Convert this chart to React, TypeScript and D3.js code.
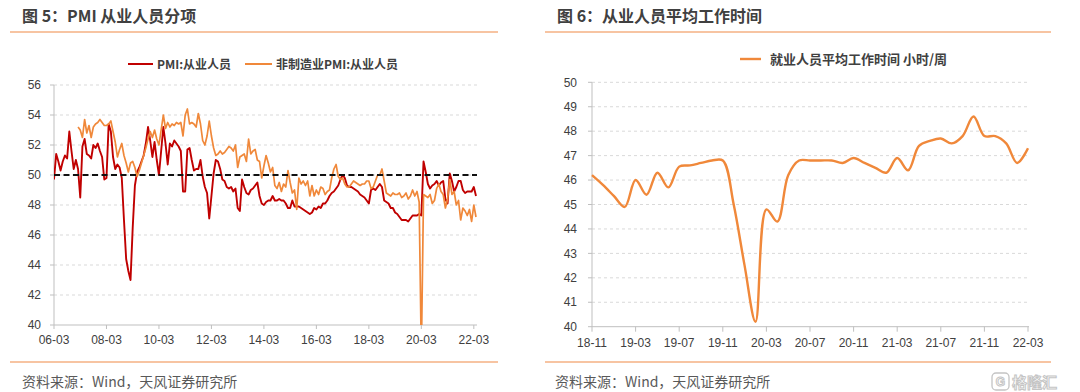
import React from 'react';
import * as d3 from 'd3';

// ---------- Left chart data (monthly, first point aligned with 06-03) ----------
const leftTickLabels = ['06-03', '08-03', '10-03', '12-03', '14-03', '16-03', '18-03', '20-03', '22-03'];
const leftTickIndex = [0, 24, 48, 72, 96, 120, 144, 168, 192];
const leftYTicks = [40, 42, 44, 46, 48, 50, 52, 54, 56];

const pmiMfgEmployment = [
  49.7, 51.4, 50.9, 50.3, 50.9, 51.3, 51.1, 52.9, 51.6, 50.4,
  51.0, 50.4, 48.5, 51.9, 52.4, 51.4, 51.3, 51.1, 52.0, 51.8, 52.1, 51.6,
  51.2, 49.7, 49.8, 53.4, 52.9, 51.2, 50.4, 50.7, 50.5, 49.8, 47.0, 44.4,
  43.6, 43.0, 46.5, 49.3, 50.2, 50.5, 50.9, 51.3, 52.1, 53.2, 52.3, 51.2,
  52.2, 51.0, 50.0, 51.6, 53.2, 52.1, 50.7, 52.1, 51.9, 52.3, 52.1, 51.9,
  51.6, 48.9, 48.9, 51.7, 51.8, 51.0, 50.3, 50.4, 50.4, 51.0, 49.9, 49.2,
  48.8, 47.1, 48.6, 50.1, 51.0, 50.9, 50.4, 49.7, 49.6, 49.2, 49.1, 49.2,
  48.9, 49.1, 47.8, 47.6, 49.7, 49.2, 48.8, 48.7, 49.0, 49.1, 49.3, 49.5,
  48.6, 48.1, 48.0, 48.2, 48.3, 48.3, 48.6, 48.3, 48.3, 48.4, 48.3, 48.3,
  48.1, 47.8, 47.8, 48.3, 47.9, 47.9, 47.9, 47.8, 47.7, 47.6, 47.5, 47.4,
  47.5, 47.8, 47.7, 47.9, 47.8, 48.1, 48.1, 48.3, 48.6, 48.8, 48.9, 49.1,
  49.3, 49.7, 50.0, 49.8, 49.3, 49.2, 49.2, 49.1, 49.0, 48.9, 48.7, 48.6,
  48.5, 48.3, 48.1, 49.0, 49.1, 49.0, 49.2, 49.4, 49.2, 48.3, 48.2, 48.1,
  47.8, 47.8, 47.5, 47.4, 47.2, 47.0, 47.0, 47.0, 46.9, 47.1, 47.3, 47.3,
  47.3, 47.4, 47.3, 50.9, 50.2, 49.4, 49.1, 49.3, 49.4, 49.6, 49.3, 49.5,
  49.6, 48.4, 48.1, 50.1, 49.6, 48.9, 49.2, 49.6, 49.6, 49.0, 48.8, 48.9,
  48.9, 48.9, 49.2, 48.6,
];

const pmiNonMfgStart = 11;
const pmiNonMfgEmployment = [
  53.2, 53.0, 52.5, 53.7, 52.8, 53.3, 52.5, 53.2, 53.4, 53.5, 53.7,
  53.5, 53.3, 53.3, 53.4, 53.6, 52.9, 52.2, 51.2, 51.7, 52.1, 51.3, 50.8,
  50.2, 50.8, 50.9, 50.5, 49.9, 50.3, 50.8, 51.3, 51.8, 52.4, 52.9, 52.5,
  53.0, 52.4, 52.0, 53.0, 54.0, 53.1, 53.5, 53.2, 53.4, 53.3, 53.5, 53.4,
  53.5, 52.6, 54.0, 54.4, 53.4, 53.5, 53.4, 53.2, 54.1, 53.4, 52.3, 52.0,
  52.6, 53.6, 52.6, 51.8, 51.3, 51.4, 51.6, 51.4, 51.5, 51.7, 51.9, 51.8,
  51.6, 52.0, 50.5, 51.2, 51.3, 51.4, 50.9, 52.4, 51.4, 51.6, 51.7, 51.0,
  50.9, 49.8, 50.6, 51.3, 50.8, 50.2, 50.5, 49.3, 49.1, 49.5, 48.9, 49.4,
  49.2, 50.3, 49.5, 48.8, 49.0, 47.7, 49.8, 49.4, 49.6, 49.3, 49.6, 48.6,
  49.3, 48.6, 49.0, 48.7, 49.2, 49.1, 48.7, 48.9, 49.0, 49.8, 50.4, 50.7,
  49.9, 49.7, 49.8, 49.4, 49.2, 49.2, 49.4, 49.6, 49.5, 49.4, 49.3, 49.4,
  49.4, 49.6, 49.6, 49.1, 49.2, 49.6, 50.0, 50.0, 50.4, 49.6, 48.8, 48.7,
  48.6, 48.8, 48.7, 48.7, 48.8, 48.5, 48.6, 48.8, 48.4, 48.6, 49.0, 48.6,
  48.9, 48.2, 37.9, 48.7, 48.6, 48.5, 48.7, 48.1, 48.3, 49.1, 49.4, 48.9,
  48.7, 47.8, 48.4, 49.7, 48.7, 48.9, 48.0, 48.3, 47.0, 47.8, 47.6, 47.3,
  47.7, 46.9, 48.0, 47.2,
];

// ---------- Right chart data ----------
const hoursTickLabels = ['18-11', '19-03', '19-07', '19-11', '20-03', '20-07', '20-11', '21-03', '21-07', '21-11', '22-03'];
const hoursTickIndex = [0, 4, 8, 12, 16, 20, 24, 28, 32, 36, 40];
const rightYTicks = [40, 41, 42, 43, 44, 45, 46, 47, 48, 49, 50];
const weeklyHours = [
  46.2, 45.8, 45.35, 44.9, 46.0, 45.4, 46.3, 45.7, 46.55, 46.6, 46.7, 46.8, 46.8,
  45.0, 42.5, 40.2, 44.8, 44.3, 46.2, 46.8, 46.8, 46.8, 46.8, 46.7, 46.9, 46.7,
  46.5, 46.3, 46.9, 46.4, 47.4, 47.6, 47.7, 47.5, 47.8, 48.6, 47.8, 47.8, 47.5,
  46.7, 47.3,
];

const LATIN = '"Liberation Sans", Arial, "Noto Sans CJK SC", sans-serif';
const CJK = '"Noto Sans CJK SC", "Liberation Sans", sans-serif';
const RED = '#C00000';
const ORANGE = '#F0883A';
const RULE = '#F4B183';
const GRID = '#D9D9D9';
const AXIS = '#BFBFBF';
const TEXT = '#404040';

function LeftChart() {
  const x = d3.scaleLinear().domain([0, pmiMfgEmployment.length - 1]).range([54, 476]);
  const y = d3.scaleLinear().domain([40, 56]).range([325, 85]);
  const x0 = 54, x1 = 477;
  const redLine = d3.line<number>().x((_, i) => x(i)).y((d) => y(d))(pmiMfgEmployment) || '';
  const orangeLine =
    d3.line<number>().x((_, i) => x(i + pmiNonMfgStart)).y((d) => y(d))(pmiNonMfgEmployment) || '';
  return (
    <g>
      <defs>
        <clipPath id="leftClip">
          <rect x={x0} y={y(56) - 5} width={x1 - x0 + 4} height={y(40) - y(56) + 5} />
        </clipPath>
      </defs>
      {leftYTicks.filter((t) => t !== 40).map((t) => (
        <line key={t} x1={x0} x2={x1} y1={y(t)} y2={y(t)} stroke={GRID} strokeDasharray="3,3" />
      ))}
      <line x1={x0} x2={x0} y1={y(56)} y2={y(40)} stroke={AXIS} />
      <line x1={x0} x2={x1} y1={y(40)} y2={y(40)} stroke={AXIS} />
      {leftYTicks.map((t) => (
        <g key={t}>
          <line x1={x0 - 4} x2={x0} y1={y(t)} y2={y(t)} stroke={AXIS} />
          <text x={41} y={y(t) + 4.2} textAnchor="end" fontSize={12} fontFamily={LATIN} fill={TEXT}>
            {t}
          </text>
        </g>
      ))}
      {leftTickIndex.map((ti, k) => (
        <g key={ti}>
          <line x1={x(ti)} x2={x(ti)} y1={y(40)} y2={y(40) + 4} stroke={AXIS} />
          <text x={x(ti)} y={344} textAnchor="middle" fontSize={12} fontFamily={LATIN} fill={TEXT}>
            {leftTickLabels[k]}
          </text>
        </g>
      ))}
      <g clipPath="url(#leftClip)">
        <path d={redLine} fill="none" stroke={RED} strokeWidth={1.9} strokeLinejoin="round" />
        <path d={orangeLine} fill="none" stroke={ORANGE} strokeWidth={1.7} strokeLinejoin="round" />
      </g>
      <line x1={x0} x2={x1} y1={y(50)} y2={y(50)} stroke="#111" strokeWidth={2} strokeDasharray="6,3.5" />
      {/* legend */}
      <line x1={128} x2={153} y1={64} y2={64} stroke={RED} strokeWidth={2} />
      <text x={157} y={68.5} fontSize={12} fontWeight="bold" fontFamily={CJK} fill={TEXT}>
        PMI:从业人员
      </text>
      <line x1={245} x2={272} y1={64} y2={64} stroke={ORANGE} strokeWidth={2} />
      <text x={276} y={68.5} fontSize={12} fontWeight="bold" fontFamily={CJK} fill={TEXT}>
        非制造业PMI:从业人员
      </text>
    </g>
  );
}

function RightChart() {
  const x = d3.scaleLinear().domain([0, weeklyHours.length - 1]).range([592, 1028]);
  const y = d3.scaleLinear().domain([40, 50]).range([326.7, 82.3]);
  const x0 = 592, x1 = 1029;
  const path =
    d3.line<number>().x((_, i) => x(i)).y((d) => y(d)).curve(d3.curveCatmullRom.alpha(0.5))(weeklyHours) || '';
  return (
    <g>
      {rightYTicks.filter((t) => t !== 40).map((t) => (
        <line key={t} x1={x0} x2={x1} y1={y(t)} y2={y(t)} stroke={GRID} strokeDasharray="3,3" />
      ))}
      <line x1={x0} x2={x0} y1={y(50)} y2={y(40)} stroke={AXIS} />
      <line x1={x0} x2={x1} y1={y(40)} y2={y(40)} stroke={AXIS} />
      {rightYTicks.map((t) => (
        <g key={t}>
          <line x1={x0 - 4} x2={x0} y1={y(t)} y2={y(t)} stroke={AXIS} />
          <text x={577} y={y(t) + 4.2} textAnchor="end" fontSize={12} fontFamily={LATIN} fill={TEXT}>
            {t}
          </text>
        </g>
      ))}
      {hoursTickIndex.map((ti, k) => (
        <g key={ti}>
          <line x1={x(ti)} x2={x(ti)} y1={y(40)} y2={y(40) + 5} stroke={AXIS} />
          <text x={x(ti)} y={347} textAnchor="middle" fontSize={12} fontFamily={LATIN} fill={TEXT}>
            {hoursTickLabels[k]}
          </text>
        </g>
      ))}
      <path d={path} fill="none" stroke={ORANGE} strokeWidth={2.4} strokeLinejoin="round" />
      <line x1={740} x2={761} y1={59} y2={59} stroke={ORANGE} strokeWidth={2.4} />
      <text x={770} y={64} fontSize={13} fontWeight="bold" fontFamily={CJK} fill={TEXT}>
        就业人员平均工作时间 小时/周
      </text>
    </g>
  );
}

export default function App() {
  return (
    <svg
      width={1080}
      height={392}
      viewBox="0 0 1080 392"
      style={{ position: 'absolute', left: 0, top: 0, background: '#fff' }}
    >
      <rect x={0} y={0} width={1080} height={392} fill="#fff" />
      {/* titles */}
      <text x={22} y={22} fontSize={16} fontWeight="bold" fontFamily={CJK} fill={TEXT}>
        图 5：PMI 从业人员分项
      </text>
      <line x1={10} x2={498} y1={32} y2={32} stroke={RULE} strokeWidth={1.6} />
      <text x={557} y={22} fontSize={16} fontWeight="bold" fontFamily={CJK} fill={TEXT}>
        图 6：从业人员平均工作时间
      </text>
      <line x1={545} x2={1051} y1={32} y2={32} stroke={RULE} strokeWidth={1.6} />

      <LeftChart />
      <RightChart />

      {/* footers */}
      <line x1={10} x2={498} y1={362} y2={362} stroke={RULE} strokeWidth={1.6} />
      <line x1={545} x2={1051} y1={362} y2={362} stroke={RULE} strokeWidth={1.6} />
      <text x={22} y={387} fontSize={14} fontFamily={CJK} fill="#595959">
        资料来源：Wind，天风证券研究所
      </text>
      <text x={555} y={387} fontSize={14} fontFamily={CJK} fill="#595959">
        资料来源：Wind，天风证券研究所
      </text>
      {/* watermark */}
      <rect x={992} y={373} width={17} height={17} rx={4} fill="none" stroke="#C4C4C4" strokeWidth={1.3} />
      <text x={1000.5} y={386} textAnchor="middle" fontSize={12} fontWeight="bold" fontFamily={LATIN} fill="none" stroke="#C4C4C4" strokeWidth={1}>
        G
      </text>
      <text x={1012} y={388} fontSize={15} fontWeight="bold" fontFamily={CJK} fill="#fff" stroke="#C4C4C4" strokeWidth={1}>
        格隆汇
      </text>
    </svg>
  );
}
